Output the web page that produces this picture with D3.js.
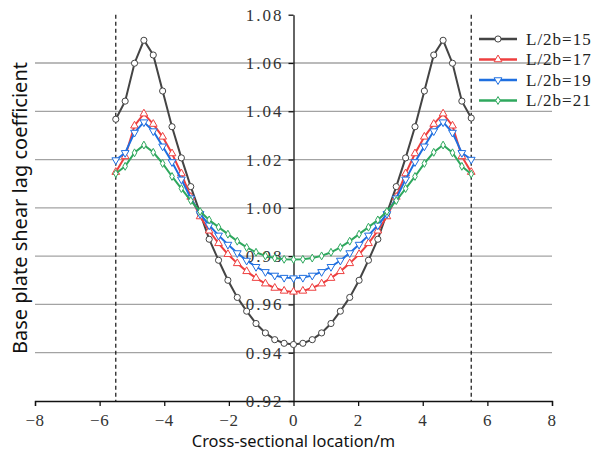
<!DOCTYPE html>
<html>
<head>
<meta charset="utf-8">
<script src="https://cdn.jsdelivr.net/npm/d3@7"></script>
<style>
  html, body { margin: 0; padding: 0; background: #fff; }
  svg { display: block; }
  .tlabel { font-family: "Liberation Serif", "DejaVu Serif", serif; font-size: 17px; fill: #333; }
</style>
</head>
<body>
<svg id="chart" width="600" height="458"></svg>
<script>
// Shear lag coefficient along the base plate, four span/width ratios.

// --- Data ---
const positions = [
  -5.50, -5.21, -4.92, -4.63, -4.34, -4.05, -3.76, -3.47, -3.18, -2.89,
  -2.61, -2.32, -2.03, -1.74, -1.45, -1.16, -0.87, -0.58, -0.29, 0.00,
  0.29, 0.58, 0.87, 1.16, 1.45, 1.74, 2.03, 2.32, 2.61, 2.89,
  3.18, 3.47, 3.76, 4.05, 4.34, 4.63, 4.92, 5.21, 5.50
];

const seriesNames = ["L/2b=15", "L/2b=17", "L/2b=19", "L/2b=21"];

const ratio15 = [
  1.0367, 1.0442, 1.0599, 1.0694, 1.0633, 1.0484, 1.0336, 1.0207, 1.0088, 0.9978,
  0.9870, 0.9783, 0.9700, 0.9629, 0.9572, 0.9521, 0.9482, 0.9454, 0.9439, 0.9434,
  0.9439, 0.9454, 0.9482, 0.9521, 0.9572, 0.9629, 0.9700, 0.9783, 0.9870, 0.9978,
  1.0088, 1.0207, 1.0336, 1.0484, 1.0633, 1.0694, 1.0599, 1.0442, 1.0372
];
const ratio17 = [
  1.0148, 1.0213, 1.0340, 1.0390, 1.0347, 1.0294, 1.0225, 1.0142, 1.0045, 0.9964,
  0.9905, 0.9853, 0.9808, 0.9770, 0.9737, 0.9709, 0.9686, 0.9668, 0.9656, 0.9652,
  0.9656, 0.9668, 0.9686, 0.9709, 0.9737, 0.9770, 0.9808, 0.9853, 0.9905, 0.9964,
  1.0045, 1.0142, 1.0225, 1.0294, 1.0347, 1.0390, 1.0340, 1.0213, 1.0148
];
const ratio19 = [
  1.0198, 1.0228, 1.0312, 1.0355, 1.0318, 1.0255, 1.0190, 1.0118, 1.0040, 0.9975,
  0.9928, 0.9886, 0.9848, 0.9813, 0.9782, 0.9756, 0.9735, 0.9720, 0.9711, 0.9709,
  0.9711, 0.9720, 0.9735, 0.9756, 0.9782, 0.9813, 0.9848, 0.9886, 0.9928, 0.9975,
  1.0040, 1.0118, 1.0190, 1.0255, 1.0318, 1.0355, 1.0312, 1.0228, 1.0200
];
const ratio21 = [
  1.0142, 1.0172, 1.0228, 1.0260, 1.0230, 1.0184, 1.0130, 1.0080, 1.0030, 0.9985,
  0.9950, 0.9920, 0.9891, 0.9862, 0.9836, 0.9816, 0.9801, 0.9792, 0.9787, 0.9786,
  0.9787, 0.9792, 0.9801, 0.9816, 0.9836, 0.9862, 0.9891, 0.9920, 0.9950, 0.9985,
  1.0030, 1.0080, 1.0130, 1.0184, 1.0230, 1.0260, 1.0228, 1.0172, 1.0140
];

const xTicks = [-8, -6, -4, -2, 0, 2, 4, 6, 8];
const yTicks = [0.92, 0.94, 0.96, 0.98, 1.00, 1.02, 1.04, 1.06, 1.08];
const gridValues = [0.94, 0.96, 0.98, 1.00, 1.02, 1.04, 1.06];
const edgeLines = [-5.5, 5.5];

(function () {
  "use strict";

  const svg = d3.select("#chart");
  const serif = "'Liberation Serif', 'DejaVu Serif', serif";

  const x = d3.scaleLinear().domain([-8, 8]).range([35, 552]);
  const y = d3.scaleLinear().domain([0.92, 1.08]).range([401, 14.7]);

  const styles = [
    { color: "#444444", shape: d3.symbolCircle, size: 30 },
    { color: "#ee3f3f", shape: d3.symbolTriangle, size: 26 },
    { color: "#1f6fe0", shape: d3.symbolTriangle, size: 26, flip: true },
    { color: "#2fa85e", shape: d3.symbolDiamond, size: 18 }
  ];
  const values = [ratio15, ratio17, ratio19, ratio21];

  // --- Grid ---
  svg.append("g").selectAll("line").data(gridValues).enter().append("line")
    .attr("x1", x(-8)).attr("x2", x(8))
    .attr("y1", d => y(d)).attr("y2", d => y(d))
    .attr("stroke", "#a3a3a3").attr("stroke-width", 1.3);

  // --- Dashed edge lines ---
  svg.append("g").selectAll("line").data(edgeLines).enter().append("line")
    .attr("x1", d => x(d)).attr("x2", d => x(d))
    .attr("y1", y(1.08)).attr("y2", y(0.92))
    .attr("stroke", "#111").attr("stroke-width", 1.2)
    .attr("stroke-dasharray", "4,3");

  // --- Axes (lines + ticks from d3.axis, labels drawn separately) ---
  const xAxis = svg.append("g")
    .attr("transform", `translate(0,${y(0.92)})`)
    .call(d3.axisBottom(x).tickValues(xTicks).tickSize(5).tickFormat(""));
  xAxis.select(".domain").attr("stroke", "#111").attr("stroke-width", 1.3);
  xAxis.selectAll(".tick line").attr("stroke", "#111").attr("stroke-width", 1.3);

  const yAxis = svg.append("g")
    .attr("transform", `translate(${x(0)},0)`)
    .call(d3.axisLeft(y).tickValues(yTicks).tickSize(5).tickSizeOuter(0).tickFormat(""));
  yAxis.select(".domain").attr("stroke", "#111").attr("stroke-width", 1.3);
  yAxis.selectAll(".tick line").attr("stroke", "#111").attr("stroke-width", 1.3);

  svg.append("g").selectAll("text").data(xTicks).enter().append("text")
    .attr("class", "tlabel")
    .attr("x", d => x(d)).attr("y", y(0.92) + 25)
    .attr("text-anchor", "middle")
    .style("letter-spacing", "0.5px")
    .text(d => d < 0 ? "\u2212" + Math.abs(d) : d);

  svg.append("g").selectAll("text").data(yTicks).enter().append("text")
    .attr("class", "tlabel")
    .attr("x", x(0) - 10).attr("y", d => y(d)).attr("dy", "0.35em")
    .attr("text-anchor", "end")
    .style("letter-spacing", "2px")
    .text(d => d.toFixed(2));

  // --- Series ---
  const line = d3.line().x((d, i) => x(positions[i])).y(d => y(d));

  values.forEach((vals, s) => {
    const st = styles[s];
    const g = svg.append("g");
    g.append("path").datum(vals)
      .attr("d", line)
      .attr("fill", "none")
      .attr("stroke", st.color)
      .attr("stroke-width", 2);
    g.selectAll("path.mark").data(vals).enter().append("path")
      .attr("class", "mark")
      .attr("d", d3.symbol().type(st.shape).size(st.size))
      .attr("transform", (d, i) => `translate(${x(positions[i])},${y(d)})` + (st.flip ? " rotate(180)" : ""))
      .attr("fill", "#fff")
      .attr("stroke", st.color)
      .attr("stroke-width", 1);
  });

  // --- Legend ---
  const legend = svg.append("g");
  seriesNames.forEach((name, s) => {
    const st = styles[s];
    const ly = 39 + s * 20.5;
    legend.append("line")
      .attr("x1", 479).attr("x2", 517).attr("y1", ly).attr("y2", ly)
      .attr("stroke", st.color).attr("stroke-width", 2.5);
    legend.append("path")
      .attr("d", d3.symbol().type(st.shape).size(st.size))
      .attr("transform", `translate(498,${ly})` + (st.flip ? " rotate(180)" : ""))
      .attr("fill", "#fff").attr("stroke", st.color).attr("stroke-width", 1);
    legend.append("text")
      .attr("x", 526).attr("y", ly).attr("dy", "0.35em")
      .style("font-family", serif).style("font-size", "17px")
      .style("letter-spacing", "1px").style("fill", "#222")
      .text(name);
  });

  // --- Axis titles ---
  svg.append("text")
    .attr("x", x(0)).attr("y", 447)
    .attr("text-anchor", "middle")
    .style("font-family", "'Noto Sans', sans-serif").style("font-size", "16.4px").style("fill", "#111")
    .text("Cross-sectional location/m");

  svg.append("text")
    .attr("transform", "translate(27,208) rotate(-90)")
    .attr("text-anchor", "middle")
    .style("font-family", "'Noto Sans', sans-serif").style("font-size", "20px").style("fill", "#111")
    .text("Base plate shear lag coefficient");
})();
</script>
</body>
</html>
